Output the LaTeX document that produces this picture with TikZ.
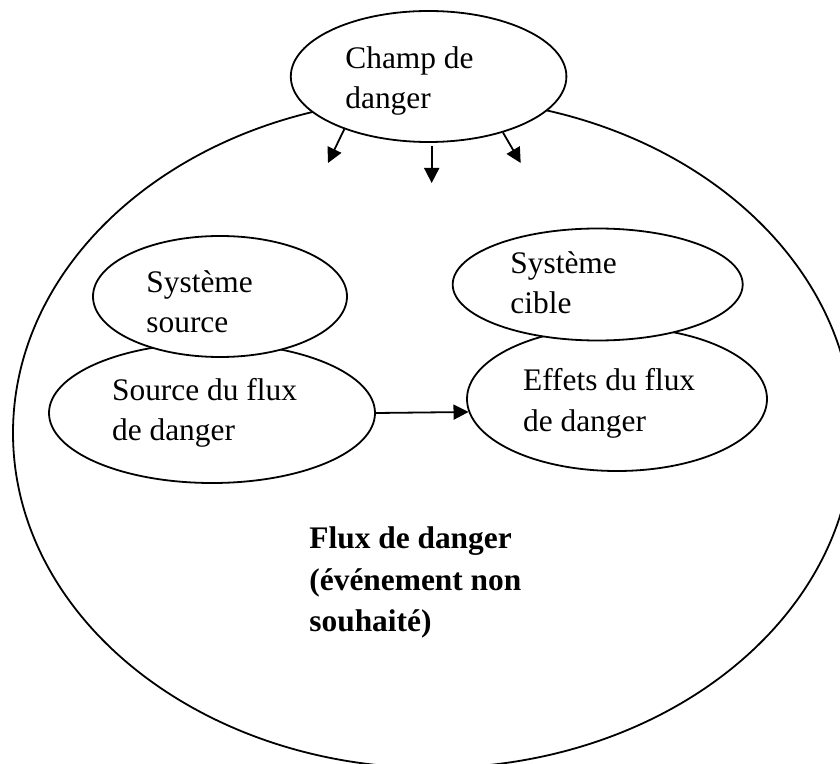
\documentclass[tikz,border=0pt]{standalone}
\usepackage{fontspec}
\setmainfont{Liberation Serif}
\usetikzlibrary{shapes.geometric, arrows.meta}
\tikzset{
    bulle/.style={draw, ellipse, line width=0.9pt, fill=white, inner sep=0pt},
    fleche/.style={line width=0.9pt, -{Triangle[length=7.5pt,width=7.5pt]}},
    texte/.style={anchor=base west, align=left, inner sep=0pt, font=\fontsize{15.7}{20.2}\selectfont},
}
\begin{document}
\begin{tikzpicture}[x=0.5pt, y=-0.5pt]
    \clip (0,0) rectangle (840,764);
    % grand ellipse : flux de danger
    \node[bulle, fill=none, minimum width=420pt, minimum height=335pt] (flux) at (433,433) {};
    % source
    \node[bulle, minimum width=163pt, minimum height=70pt] (srcflux) at (212,413) {};
    \node[bulle, minimum width=127pt, minimum height=60.5pt] (syssrc) at (220,296.5) {};
    % cible
    \node[bulle, minimum width=150pt, minimum height=72pt] (effets) at (617,399) {};
    \node[bulle, minimum width=145pt, minimum height=56pt] (syscible) at (597.7,284.5) {};
    % champ de danger
    \node[bulle, minimum width=137.8pt, minimum height=65.5pt] (champ) at (428.6,76.5) {};
    % textes (base = ligne du bas)
    \node[texte] (tchamp) at (345,108.5) {Champ de\\danger};
    \node[texte] (tsyssrc) at (146,332.5) {Système\\source};
    \node[texte] (tsrcflux) at (111.7,440.5) {Source du flux\\de danger};
    \node[texte] (tsyscible) at (510,314) {Système\\cible};
    \node[texte] (teffets) at (522.7,431) {Effets du flux\\de danger};
    \node[texte, font=\fontsize{15.7}{20.8}\selectfont\bfseries] (tflux) at (309,631.7) {Flux de danger\\(événement non\\souhaité)};
    % fleches
    \coordinate (pointe1) at (328,163);
    \coordinate (pointe2) at (431.7,183);
    \coordinate (pointe3) at (520.7,163);
    \draw[fleche] (champ.212.6) -- (pointe1);
    \draw[fleche, shorten <=1.5pt] (champ.south -| pointe2) -- (pointe2);
    \draw[fleche] (champ.323.5) -- (pointe3);
    \draw[fleche] (srcflux.east) -- (effets.185);
\end{tikzpicture}
\end{document}
